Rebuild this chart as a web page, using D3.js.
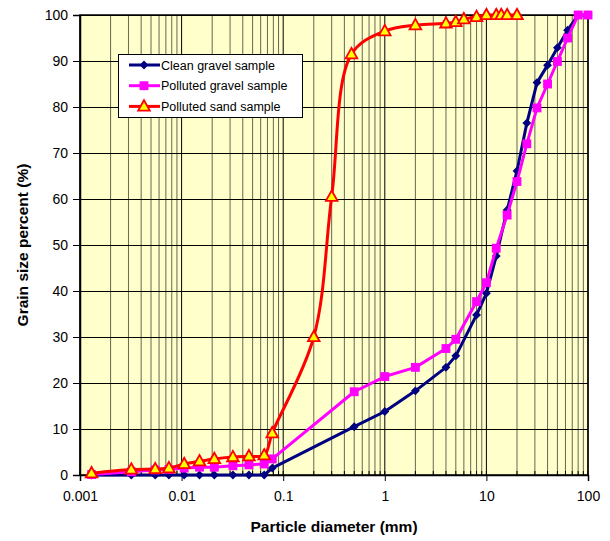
<!DOCTYPE html>
<html>
<head>
<meta charset="utf-8">
<script src="https://d3js.org/d3.v7.min.js"></script>
<style>
  body { margin: 0; background: #fff; }
  text { font-family: Arial, "Liberation Sans", sans-serif; }
</style>
</head>
<body>
<div id="chart"></div>
<script>
// sieve / hydrometer sizes (mm)
var fineSizes = [0.0013, 0.0032, 0.0055, 0.0075, 0.0106, 0.015, 0.021, 0.032, 0.046, 0.065, 0.078];
var gravelSizes = [0.5, 1, 2, 4, 5, 8, 10, 12.5, 16, 20, 25, 31.5, 40, 50, 63, 80, 100];
var sandSizes = [0.2, 0.3, 0.47, 1, 2, 4, 5, 6, 8, 10, 12.5, 14, 16, 20];

var cleanGravel = [0, 0, 0, 0, 0, 0, 0, 0, 0, 0, 1.5,
    10.5, 13.8, 18.3, 23.4, 25.9, 34.8, 39.5, 47.6, 57.6, 66.1, 76.5, 85.3, 89.1, 92.9, 96.7, 100, 100];
var pollutedGravel = [0.1, 0.7, 1.1, 1.2, 1.5, 1.7, 1.7, 2.0, 2.2, 2.4, 3.5,
    18.1, 21.4, 23.4, 27.5, 29.5, 37.7, 41.8, 49.3, 56.5, 63.8, 72.0, 79.8, 85.0, 89.9, 95.0, 100, 100];
var pollutedSand = [0.4, 1.2, 1.3, 1.5, 2.4, 3.0, 3.5, 3.9, 4.1, 4.3, 9.1,
    30, 60.5, 91.5, 96.5, 97.8, 98.2, 98.5, 99.1, 99.6, 100, 100, 100, 100, 100];

var seriesNames = ['Clean gravel sample', 'Polluted gravel sample', 'Polluted sand sample'];
var xTicks = [0.001, 0.01, 0.1, 1, 10, 100];
var xTickLabels = ['0.001', '0.01', '0.1', '1', '10', '100'];
var yTicks = [0, 10, 20, 30, 40, 50, 60, 70, 80, 90, 100];

var margin = {top: 15, right: 22, bottom: 66, left: 80},
    width = 610 - margin.left - margin.right,
    height = 541 - margin.top - margin.bottom;

const zip = (xs, ys) => xs.map((d, i) => ({x: d, y: ys[i]}));

var series = [
    {name: seriesNames[0], color: '#000080', marker: 'diamond', data: zip(fineSizes.concat(gravelSizes), cleanGravel), smooth: false},
    {name: seriesNames[1], color: '#FF00FF', marker: 'square', data: zip(fineSizes.concat(gravelSizes), pollutedGravel), smooth: false},
    {name: seriesNames[2], color: '#FF0000', marker: 'triangle', data: zip(fineSizes.concat(sandSizes), pollutedSand), smooth: true}
];

var x = d3.scaleLog().domain([0.001, 100]).range([0, width]);
var y = d3.scaleLinear().domain([0, 100]).range([height, 0]);

var svg = d3.select('#chart').append('svg')
    .attr('width', 610)
    .attr('height', 541)
  .append('g')
    .attr('transform', 'translate(' + margin.left + ',' + margin.top + ')');

svg.append('rect')
    .attr('width', width)
    .attr('height', height)
    .attr('fill', '#FFFFCC');

// minor + major vertical grid
var allX = [];
xTicks.slice(0, -1).forEach(d => {
    for (var k = 1; k < 10; k++) allX.push(d * k);
});
allX.push(100);

svg.append('g').selectAll('line')
    .data(allX)
    .enter().append('line')
    .attr('x1', d => x(d)).attr('x2', d => x(d))
    .attr('y1', 0).attr('y2', height)
    .attr('stroke', '#000')
    .attr('stroke-opacity', (d, i) => i % 9 === 0 ? 1 : 0.6)
    .attr('stroke-width', 1);

svg.append('g').selectAll('line')
    .data(yTicks)
    .enter().append('line')
    .attr('x1', 0).attr('x2', width)
    .attr('y1', d => Math.round(y(d)) + 0.5).attr('y2', d => Math.round(y(d)) + 0.5)
    .attr('stroke', '#000');

svg.append('rect')
    .attr('width', width)
    .attr('height', height)
    .attr('fill', 'none')
    .attr('stroke', '#000')
    .attr('stroke-width', 1.5);

// axes
var yAxis = svg.append('g')
    .call(d3.axisLeft(y).tickValues(yTicks).tickSize(7).tickPadding(5));
yAxis.select('.domain').attr('stroke-width', 1.5);
yAxis.selectAll('text').attr('font-size', 14).attr('fill', '#000');

var xAxis = svg.append('g')
    .attr('transform', 'translate(0,' + height + ')')
    .call(d3.axisBottom(x).tickValues(xTicks).tickSize(6).tickPadding(10)
        .tickFormat((d, i) => xTickLabels[i]));
xAxis.select('.domain').attr('stroke-width', 1.5);
xAxis.selectAll('text').attr('font-size', 14).attr('fill', '#000');

svg.append('g').selectAll('line')
    .data(allX)
    .enter().append('line')
    .attr('x1', d => x(d)).attr('x2', d => x(d))
    .attr('y1', height - 4).attr('y2', height)
    .attr('stroke', '#000');

const markerPath = (type, s) => {
    if (type === 'diamond') return d3.symbol(d3.symbolDiamond2, s * s * 0.5)();
    if (type === 'square') return d3.symbol(d3.symbolSquare2, s * s)();
    return 'M0,' + (-s * 0.62) + 'L' + (s * 0.58) + ',' + (s * 0.42) + 'L' + (-s * 0.58) + ',' + (s * 0.42) + 'Z';
};

const drawMarker = (g, type, color) => {
    if (type === 'diamond') {
        g.append('path').attr('d', markerPath('diamond', 10)).attr('fill', color);
    } else if (type === 'square') {
        g.append('path').attr('d', markerPath('square', 10)).attr('fill', color);
    } else {
        g.append('path').attr('d', markerPath('triangle', 10))
            .attr('fill', '#FFFF00').attr('stroke', color).attr('stroke-width', 1.8)
            .attr('stroke-linejoin', 'miter');
    }
};

series.forEach(s => {
    var line = d3.line()
        .x(d => x(d.x))
        .y(d => y(d.y))
        .curve(s.smooth ? d3.curveCatmullRom.alpha(0.5) : d3.curveLinear);

    svg.append('path')
        .datum(s.data)
        .attr('fill', 'none')
        .attr('stroke', s.color)
        .attr('stroke-width', 3)
        .attr('stroke-linejoin', 'round')
        .attr('d', line);

    svg.append('g').selectAll('g')
        .data(s.data)
        .enter().append('g')
        .attr('transform', d => 'translate(' + x(d.x) + ',' + y(d.y) + ')')
        .each(function() { drawMarker(d3.select(this), s.marker, s.color); });
});

// legend
var legend = svg.append('g').attr('transform', 'translate(38,39)');
legend.append('rect')
    .attr('x', 0.5).attr('y', 0.5)
    .attr('width', 184).attr('height', 63)
    .attr('fill', '#fff')
    .attr('stroke', '#000');

series.forEach((s, i) => {
    var row = legend.append('g').attr('transform', 'translate(0,' + (11 + i * 20.7) + ')');
    row.append('line')
        .attr('x1', 11).attr('x2', 42)
        .attr('stroke', s.color).attr('stroke-width', 3);
    drawMarker(row.append('g').attr('transform', 'translate(26,0)'), s.marker, s.color);
    row.append('text')
        .attr('x', 43).attr('y', 4.5)
        .attr('font-size', 12.5)
        .text(s.name);
});

// axis titles
svg.append('text')
    .attr('x', width / 2)
    .attr('y', height + 57)
    .attr('text-anchor', 'middle')
    .attr('font-size', 15.5)
    .attr('font-weight', 'bold')
    .text('Particle diameter (mm)');

svg.append('text')
    .attr('transform', 'translate(-52,' + (height / 2) + ') rotate(-90)')
    .attr('text-anchor', 'middle')
    .attr('font-size', 15.5)
    .attr('font-weight', 'bold')
    .text('Grain size percent (%)');
</script>
</body>
</html>
